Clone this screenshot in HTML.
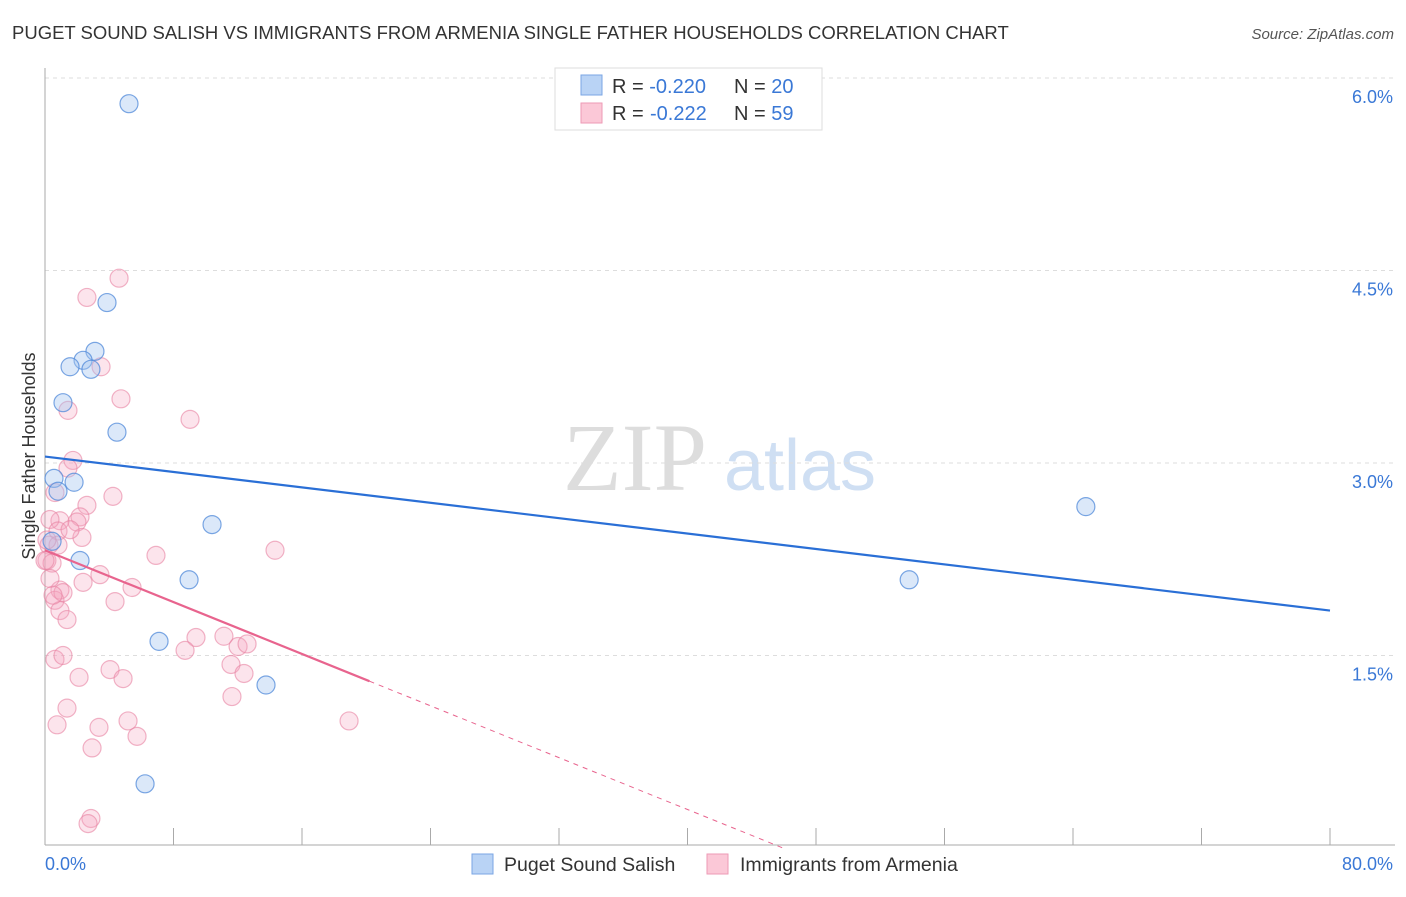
<!DOCTYPE html>
<html><head><meta charset="utf-8"><style>
body{margin:0;background:#fff;font-family:"Liberation Sans",sans-serif;}
</style></head><body>
<svg id="chart" width="1406" height="892" xmlns="http://www.w3.org/2000/svg" font-family="Liberation Sans, sans-serif">
<text x="12" y="39" font-size="18.5" fill="#333">PUGET SOUND SALISH VS IMMIGRANTS FROM ARMENIA SINGLE FATHER HOUSEHOLDS CORRELATION CHART</text>
<text x="1394" y="39" font-size="15" fill="#555" text-anchor="end" font-style="italic">Source: ZipAtlas.com</text>
<text x="35" y="456" font-size="18" fill="#333" text-anchor="middle" transform="rotate(-90 35 456)">Single Father Households</text>
<g>
<text x="635" y="490" font-size="96" fill="#ddd" font-family="Liberation Serif, serif" text-anchor="middle">ZIP</text>
<text x="800" y="490" font-size="72" fill="#cfdff3" text-anchor="middle">atlas</text>
</g>
<g id="grid"></g><g id="axes"></g><g id="points"></g><g id="lines"></g>
<g>
<rect x="555" y="68" width="267" height="62" fill="#fff" stroke="#ddd"/>
<rect x="581" y="75" width="21" height="20" fill="#b9d3f5" stroke="#7aa6e4"/>
<text x="612" y="93" font-size="20" fill="#333">R = <tspan fill="#3a78d6">-0.220</tspan><tspan x="734">N = </tspan><tspan fill="#3a78d6">20</tspan></text>
<rect x="581" y="103" width="21" height="20" fill="#fbc8d7" stroke="#ee9ab6"/>
<text x="612" y="120" font-size="20" fill="#333">R = <tspan fill="#3a78d6" x="650">-0.222</tspan><tspan x="734">N = </tspan><tspan fill="#3a78d6">59</tspan></text>
</g>
<g>
<rect x="472" y="854" width="21" height="20" fill="#b9d3f5" stroke="#7aa6e4"/>
<text x="504" y="871" font-size="19.5" fill="#333">Puget Sound Salish</text>
<rect x="707" y="854" width="21" height="20" fill="#fbc8d7" stroke="#ee9ab6"/>
<text x="740" y="871" font-size="19.5" fill="#333">Immigrants from Armenia</text>
</g>
</svg>
<script>
const yTicks=[1.5,3.0,4.5,6.0];
const yTickLabels=["1.5%","3.0%","4.5%","6.0%"];
const xTickCount=10;
const xLabels=["0.0%","80.0%"];
const blueX=[5.23,3.86,3.11,2.37,1.56,2.86,1.12,4.48,0.56,1.81,0.81,10.40,0.44,2.18,8.97,53.8,64.8,7.10,13.76,6.23];
const blueY=[5.80,4.25,3.87,3.80,3.75,3.73,3.47,3.24,2.88,2.85,2.78,2.52,2.39,2.24,2.09,2.09,2.66,1.61,1.27,0.50];
const pinkX=[4.61,2.61,1.43,4.73,9.03,3.49,1.74,1.43,0.62,4.23,2.61,2.18,1.99,0.93,0.31,2.30,0.81,6.91,14.32,0.25,0.81,0.12,0.44,3.42,2.37,0.93,5.42,0.62,1.12,4.36,0.93,1.37,9.40,11.14,8.72,12.02,12.58,0.62,1.12,4.05,11.58,4.86,2.12,12.39,11.64,1.37,0.75,3.36,5.17,5.73,2.93,18.93,2.86,2.68,0.12,0.0,0.31,1.56,0.5];
const pinkY=[4.44,4.29,3.41,3.50,3.34,3.75,3.02,2.96,2.77,2.74,2.67,2.58,2.54,2.55,2.56,2.42,2.47,2.28,2.32,2.36,2.36,2.24,2.22,2.13,2.07,2.01,2.03,1.93,1.99,1.92,1.85,1.78,1.64,1.65,1.54,1.57,1.59,1.47,1.50,1.39,1.43,1.32,1.33,1.36,1.18,1.09,0.96,0.94,0.99,0.87,0.78,0.99,0.23,0.19,2.40,2.24,2.10,2.48,1.97];
const blueFit=[3.05,-0.015];
const pinkFit=[2.32,-0.0505];
const pinkSolidEnd=20.2;
const NS="http://www.w3.org/2000/svg";
const X=v=>45+v/80*1285, Y=v=>848-v/6*770;
function mk(t,a,p){const e=document.createElementNS(NS,t);for(const k in a)e.setAttribute(k,a[k]);document.getElementById(p).appendChild(e);return e;}
yTicks.forEach((t,i)=>{
 const l=mk('line',{x1:45,x2:1395,y1:Y(t),y2:Y(t),stroke:'#ddd','stroke-dasharray':'4,4'},'grid');
 
 
 const tx=mk('text',{x:1393,y:Y(t)+25,'font-size':18,fill:'#3a78d6','text-anchor':'end'},'grid');
 tx.textContent=yTickLabels[i];
 
 
});
let a=mk('line',{x1:45,x2:45,y1:68,y2:845,stroke:'#aaa'},'axes');

a=mk('line',{x1:45,x2:1395,y1:845,y2:845,stroke:'#aaa'},'axes');

for(let i=1;i<=xTickCount;i++){const t=mk('line',{x1:X(i*8),x2:X(i*8),y1:828,y2:845,stroke:'#aaa'},'axes');
 
 }
let xl=mk('text',{x:45,y:870,'font-size':18,fill:'#3a78d6'},'axes');xl.textContent=xLabels[0];

xl=mk('text',{x:1393,y:870,'font-size':18,fill:'#3a78d6','text-anchor':'end'},'axes');xl.textContent=xLabels[1];

pinkX.forEach((v,i)=>{const c=mk('circle',{cx:X(v),cy:Y(pinkY[i]),r:9,fill:'rgba(245,165,192,0.3)',stroke:'rgba(232,130,162,0.6)','stroke-width':1.2},'points');
 
 });
blueX.forEach((v,i)=>{const c=mk('circle',{cx:X(v),cy:Y(blueY[i]),r:9,fill:'rgba(165,198,240,0.4)',stroke:'rgba(80,138,218,0.75)','stroke-width':1.2},'points');
 
 });
let ln=mk('line',{x1:X(0),y1:Y(blueFit[0]),x2:X(80),y2:Y(blueFit[0]+blueFit[1]*80),stroke:'#2a6fd6','stroke-width':2.2},'lines');

ln=mk('line',{x1:X(0),y1:Y(pinkFit[0]),x2:X(pinkSolidEnd),y2:Y(pinkFit[0]+pinkFit[1]*pinkSolidEnd),stroke:'#e8648e','stroke-width':2.2},'lines');

const xz=-pinkFit[0]/pinkFit[1];
ln=mk('line',{x1:X(pinkSolidEnd),y1:Y(pinkFit[0]+pinkFit[1]*pinkSolidEnd),x2:X(xz),y2:Y(0),stroke:'#e8648e','stroke-width':1,'stroke-dasharray':'5,5'},'lines');

</script>
</body></html>
